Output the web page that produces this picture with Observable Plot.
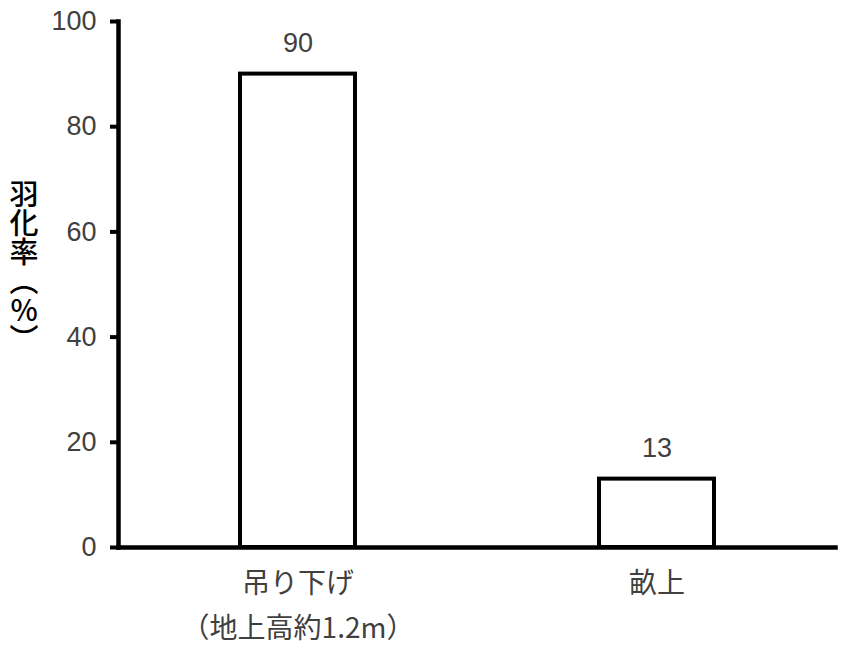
<!DOCTYPE html>
<html>
<head>
<meta charset="utf-8">
<script src="https://cdn.jsdelivr.net/npm/d3@7"></script>
<script src="https://cdn.jsdelivr.net/npm/@observablehq/plot@0.6"></script>
<style>
  html, body { margin: 0; padding: 0; background: #fff; }
  #wrap { position: relative; width: 848px; height: 659px; }
  #ylabel {
    position: absolute; left: 9px; top: 179px;
    writing-mode: vertical-rl;
    text-orientation: upright;
    font-family: "Noto Sans CJK JP", sans-serif;
    font-size: 29px; font-weight: 500; color: #000; line-height: 1;
  }
</style>
</head>
<body>
<div id="wrap">
  <div id="ylabel"></div>
</div>
<script>
const categories = ["吊り下げ", "畝上"];
const categoryLabels = ["吊り下げ\n（地上高約1.2m）", "畝上"];
const values = [90, 13];
const yTicks = [0, 20, 40, 60, 80, 100];
const yLabel = "羽化率（%）";

document.getElementById("ylabel").textContent = yLabel;

const data = categories.map((c, i) => ({cat: c, value: values[i]}));
const labelOf = new Map(categories.map((c, i) => [c, categoryLabels[i]]));

const chart = Plot.plot({
  width: 848,
  height: 659,
  marginLeft: 118,
  marginRight: 13,
  marginTop: 21,
  marginBottom: 112,
  style: {fontFamily: "'Liberation Sans', 'Noto Sans CJK JP', sans-serif", background: "#fff"},
  x: {domain: categories, paddingInner: 0.68, paddingOuter: 0.336, label: null},
  y: {domain: [0, 100], label: null},
  marks: [
    Plot.barY(data, {x: "cat", y: "value", fill: "white", stroke: "black", strokeWidth: 4}),
    Plot.text(data, {x: "cat", y: "value", text: d => String(d.value), dy: -31, fontSize: 27, fill: "#404040"}),
    Plot.frame({anchor: "left", stroke: "black", strokeWidth: 4.5}),
    Plot.frame({anchor: "bottom", stroke: "black", strokeWidth: 4.5}),
    Plot.axisY({ticks: yTicks, tickSize: 8, tickPadding: 14, fontSize: 27, stroke: "black", strokeWidth: 4, fill: "#404040", label: null}),
    Plot.axisX({tickSize: 0, tickPadding: 14, fontSize: 28, fill: "#404040", lineHeight: 1.6, tickFormat: d => labelOf.get(d), label: null, fontFamily: "'Noto Sans CJK JP', sans-serif"})
  ]
});
document.getElementById("wrap").prepend(chart);
chart.style.position = "absolute";
chart.style.left = "0";
chart.style.top = "0";
</script>
</body>
</html>
